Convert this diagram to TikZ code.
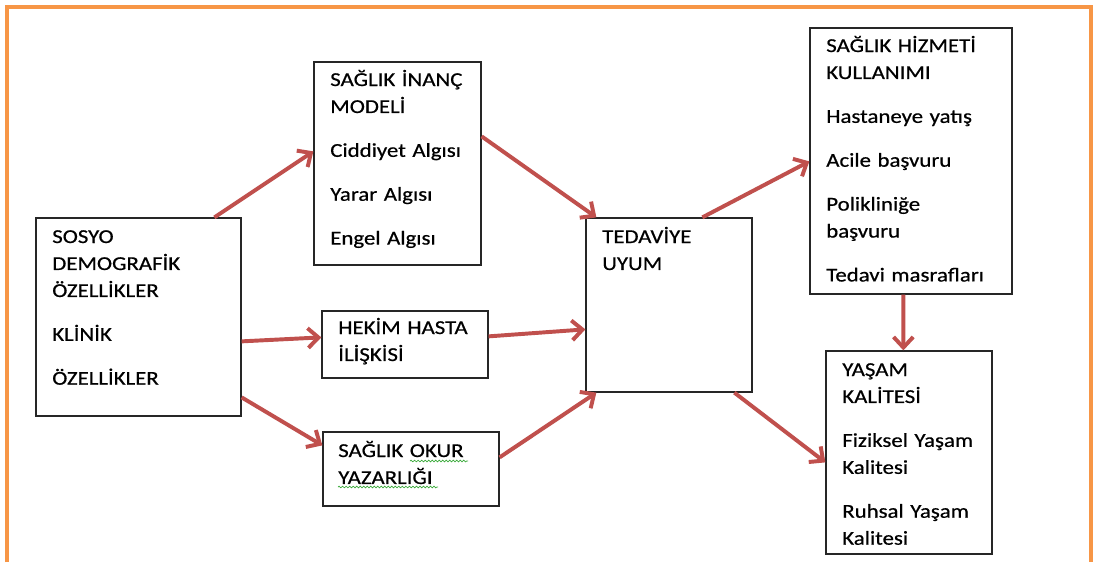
\documentclass[tikz,border=0pt]{standalone}
\usepackage{fontspec}
\setmainfont{Carlito}[FakeStretch=1.16,FakeBold=0.6,WordSpace=0.8]
\usetikzlibrary{arrows.meta,calc,fit,decorations.pathmorphing}
\definecolor{framecol}{HTML}{F79646}
\definecolor{arrowcol}{HTML}{C0504D}
\definecolor{squigglecol}{HTML}{3BAA3B}

\begin{document}
\begin{tikzpicture}[scale=0.25,
    boxnode/.style={draw=black!85, line width=0.9pt, inner sep=0pt},
    txtnode/.style={inner sep=0pt, anchor=base west, align=left, text width=4.6cm,
      font=\fontsize{14}{19.2}\selectfont},
    flowarrow/.style={draw=arrowcol, line width=2.8pt,
      preaction={draw=black!18, transform canvas={shift={(0.5pt,-0.8pt)}}},
      -{Straight Barb[length=7.5pt,width=14pt]}},
    squiggle/.style={draw=squigglecol, line width=0.5pt, decorate,
      decoration={snake, amplitude=0.6pt, segment length=2.5pt}}]
                      \useasboundingbox (0,0) rectangle (109.3,-56.2);
                      % orange frame, open at the bottom
                      \draw [framecol, line width=2.4pt] (0.7,-56.2) -- (0.7,-0.7) -- (109.1,-0.7) -- (109.1,-56.2);
                      % boxes
                      \node [boxnode, fit={(3.6,-21.8) (24.1,-41.6)}] (sosyo) {};
                      \node [boxnode, fit={(31.4,-6.2) (48.1,-26.5)}] (inanc) {};
                      \node [boxnode, fit={(32.2,-31.1) (48.8,-37.8)}] (hekim) {};
                      \node [boxnode, fit={(32.3,-43.2) (49.9,-50.6)}] (okur) {};
                      \node [boxnode, fit={(58.6,-21.8) (75.2,-39.2)}] (tedavi) {};
                      \node [boxnode, fit={(81.0,-2.8) (101.2,-29.4)}] (hizmet) {};
                      \node [boxnode, fit={(82.6,-35.1) (99.2,-55.4)}] (yasam) {};
                      % texts
                      \node [txtnode] (sosyotxt) at (5.2,-24.3) {SOSYO\\ DEMOGRAFİK\\ ÖZELLİKLER\\[12pt] KLİNİK\\[12pt] ÖZELLİKLER};
                      \node [txtnode] (inanctxt) at (33.0,-8.6) {SAĞLIK İNANÇ\\ MODELİ\\[12pt] Ciddiyet Algısı\\[12pt] Yarar Algısı\\[12pt] Engel Algısı};
                      \node [txtnode] (hekimtxt) at (33.8,-33.4) {HEKİM HASTA\\ İLİŞKİSİ};
                      \node [txtnode] (okurtxt) at (33.8,-45.7) {SAĞLIK OKUR\\ YAZARLIĞI};
                      \node [txtnode] (tedavitxt) at (60.2,-24.3) {TEDAVİYE\\ UYUM};
                      \node [txtnode] (hizmettxt) at (82.6,-5.2) {SAĞLIK HİZMETİ\\ KULLANIMI\\[12pt] Hastaneye yatış\\[12pt] Acile başvuru\\[12pt] Polikliniğe\\ başvuru\\[12pt] Tedavi masrafları};
                      \node [txtnode] (yasamtxt) at (84.2,-37.6) {YAŞAM\\ KALİTESİ\\[12pt] Fiziksel Yaşam\\ Kalitesi\\[12pt] Ruhsal Yaşam\\ Kalitesi};
                      % proofing marks
                      \draw [squiggle] (41.0,-46.1) -- (46.8,-46.1);
                      \draw [squiggle] (33.8,-48.7) -- (43.8,-48.7);
                      % arrows
                      \draw [flowarrow] ($(sosyo.north west)+(17.9,0)$) -- ($(inanc.north west)+(0,-9.0)$);
                      \draw [flowarrow] ($(sosyo.north east)+(0,-12.4)$) -- ($(hekim.north west)+(0,-2.7)$);
                      \draw [flowarrow] ($(sosyo.north east)+(0,-18.0)$) -- ($(okur.north west)+(0,-1.4)$);
                      \draw [flowarrow] ($(inanc.north east)+(0,-7.5)$) -- ($(tedavi.north west)+(1.1,0)$);
                      \draw [flowarrow] ($(hekim.north east)+(0,-2.6)$) -- ($(tedavi.north west)+(0,-11.2)$);
                      \draw [flowarrow] ($(okur.north east)+(0,-2.6)$) -- ($(tedavi.south west)+(1.1,0)$);
                      \draw [flowarrow] ($(tedavi.north west)+(11.7,0)$) -- ($(hizmet.north west)+(0,-13.4)$);
                      \draw [flowarrow] ($(tedavi.south west)+(14.9,0)$) -- ($(yasam.north west)+(0,-11.2)$);
                      \draw [flowarrow] ($(hizmet.south west)+(9.4,0)$) -- ($(yasam.north west)+(7.8,0)$);
                  \end{tikzpicture}
\end{document}
